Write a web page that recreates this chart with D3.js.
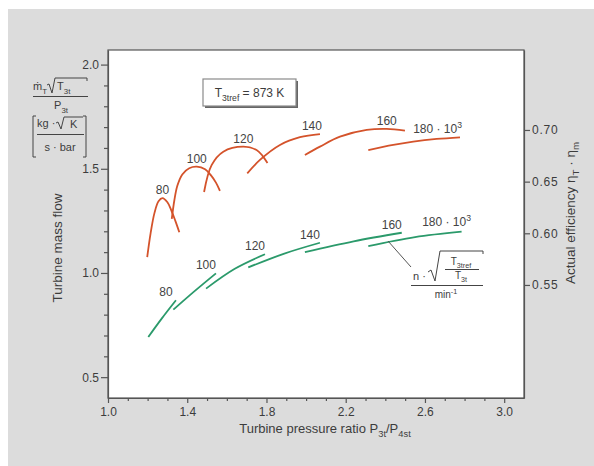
<!DOCTYPE html>
<html>
<head>
<meta charset="utf-8">
<script src="https://cdn.jsdelivr.net/npm/d3@7"></script>
<style>
body { margin: 0; background: #fff; }
svg { display: block; font-family: "Liberation Sans", Arial, sans-serif; }
.axis path, .axis line { stroke: #555; stroke-width: 1.2; }
.axis text { font-size: 12px; fill: #3c3c3c; font-family: "Liberation Sans", Arial, sans-serif; }
</style>
</head>
<body>
<svg id="chart" width="594" height="466"></svg>
<script>
// speed lines n*sqrt(T3tref/T3t) in 1/min (x 10^3)
var speeds = ["80", "100", "120", "140", "160", "180"];

// actual efficiency vs pressure ratio (right axis)
var effCurves = [
	[[1.198, 0.577], [1.215, 0.600], [1.235, 0.620], [1.255, 0.631], [1.275, 0.634], [1.30, 0.630], [1.32, 0.622], [1.34, 0.612], [1.36, 0.601]],
	[[1.322, 0.614], [1.335, 0.632], [1.35, 0.646], [1.375, 0.657], [1.41, 0.663], [1.448, 0.6645], [1.49, 0.662], [1.52, 0.656], [1.545, 0.649], [1.565, 0.641]],
	[[1.485, 0.640], [1.523, 0.666], [1.582, 0.679], [1.683, 0.6838], [1.75, 0.6806], [1.78, 0.675], [1.805, 0.668]],
	[[1.703, 0.658], [1.767, 0.671], [1.868, 0.6855], [1.969, 0.693], [2.07, 0.696]],
	[[1.994, 0.6758], [2.07, 0.6839], [2.171, 0.6935], [2.306, 0.700], [2.407, 0.701], [2.499, 0.6993]],
	[[2.314, 0.6806], [2.44, 0.6855], [2.541, 0.6887], [2.659, 0.6913], [2.777, 0.6929]]
];

// turbine mass flow vs pressure ratio (left axis)
var flowCurves = [
	[[1.2035, 0.693], [1.271, 0.781], [1.343, 0.869]],
	[[1.33, 0.824], [1.44, 0.915], [1.545, 0.998]],
	[[1.495, 0.925], [1.64, 1.02], [1.7925, 1.09]],
	[[1.708, 1.0265], [1.89, 1.093], [2.07, 1.145]],
	[[1.994, 1.100], [2.24, 1.152], [2.483, 1.193]],
	[[2.314, 1.129], [2.55, 1.172], [2.785, 1.198]]
];

var xTicks = [1.0, 1.4, 1.8, 2.2, 2.6, 3.0];
var yLeftTicks = [0.5, 1.0, 1.5, 2.0];
var yRightTicks = [0.55, 0.60, 0.65, 0.70];

var svg = d3.select("#chart"),
	margin = {top: 50, left: 108, bottom: 68, right: 70},
	width = +svg.attr("width"),
	height = +svg.attr("height");

var effColor = "#d4532b", flowColor = "#2b9a6b", textColor = "#3c3c3c";

// background
svg.append("rect").attr("width", width).attr("height", height).attr("fill", "#fff");
svg.append("rect").attr("x", 8).attr("y", 9).attr("width", width - 8).attr("height", height - 9).attr("fill", "#dcdcdc");

var x = d3.scaleLinear()
	.domain([1.0, 3.1])
	.range([margin.left, width - margin.right]);

var yL = d3.scaleLinear()
	.domain([0.4, 2.07])
	.range([height - margin.bottom, margin.top]);

var yR = d3.scaleLinear()
	.domain([0.4406, 0.7774])
	.range([height - margin.bottom, margin.top]);

svg.append("rect")
	.attr("x", x.range()[0]).attr("y", margin.top)
	.attr("width", x.range()[1] - x.range()[0])
	.attr("height", height - margin.bottom - margin.top)
	.attr("fill", "#fff")
	.attr("stroke", "#555").attr("stroke-width", 1.2);

// helper for text with sub/superscripts
function rich(g, px, py, parts, size, anchor) {
	var t = g.append("text").attr("x", px).attr("y", py)
		.attr("font-size", size).attr("fill", textColor)
		.attr("text-anchor", anchor || "start");
	var shift = 0;
	parts.forEach(function(p) {
		var target = p[1] == "sub" ? size * 0.32 : p[1] == "sup" ? -size * 0.42 : 0;
		t.append("tspan").attr("dy", target - shift)
			.attr("font-size", p[1] == "n" ? size : size * 0.72)
			.text(p[0]);
		shift = target;
	});
	return t;
}

// axes
var minorX = d3.range(11, 31).map(d => d / 10).filter(d => xTicks.indexOf(d) < 0);
svg.append("g").attr("class", "axis")
	.attr("transform", `translate(0,${height - margin.bottom})`)
	.call(d3.axisBottom(x).tickValues(minorX).tickSize(3).tickFormat("").tickSizeOuter(0))
	.select(".domain").remove();
svg.append("g").attr("class", "axis")
	.attr("transform", `translate(0,${height - margin.bottom})`)
	.call(d3.axisBottom(x).tickValues(xTicks).tickSize(5).tickPadding(4).tickFormat(d3.format(".1f")).tickSizeOuter(0));

var minorY = d3.range(5, 21).map(d => d / 10).filter(d => yLeftTicks.indexOf(d) < 0);
svg.append("g").attr("class", "axis")
	.attr("transform", `translate(${margin.left},0)`)
	.call(d3.axisLeft(yL).tickValues(minorY).tickSize(4).tickFormat("").tickSizeOuter(0))
	.select(".domain").remove();
svg.append("g").attr("class", "axis")
	.attr("transform", `translate(${margin.left},0)`)
	.call(d3.axisLeft(yL).tickValues(yLeftTicks).tickSize(7).tickPadding(2).tickFormat(d3.format(".1f")).tickSizeOuter(0));

svg.append("g").attr("class", "axis")
	.attr("transform", `translate(${width - margin.right},0)`)
	.call(d3.axisRight(yR).tickValues(yRightTicks).tickSize(6).tickPadding(2).tickFormat(d3.format(".2f")).tickSizeOuter(0))
	.selectAll("text").attr("letter-spacing", "0.8px");

// curves
var line = d3.line().curve(d3.curveCatmullRom.alpha(0.5));

svg.append("g").selectAll("path.eff")
	.data(effCurves)
	.enter().append("path")
	.attr("class", "eff")
	.attr("fill", "none").attr("stroke", effColor).attr("stroke-width", 1.8)
	.attr("d", d => line(d.map(p => [x(p[0]), yR(p[1])])));

svg.append("g").selectAll("path.flow")
	.data(flowCurves)
	.enter().append("path")
	.attr("class", "flow")
	.attr("fill", "none").attr("stroke", flowColor).attr("stroke-width", 1.8)
	.attr("d", d => line(d.map(p => [x(p[0]), yL(p[1])])));

// speed labels
function speedLabel(g, i, cx, cy) {
	var parts = i == speeds.length - 1 ? [[speeds[i] + " · 10", "n"], ["3", "sup"]] : [[speeds[i], "n"]];
	var t = rich(g, cx, cy + 4, parts, 12, "middle");
	t.attr("fill", "#444");
	return t;
}
var lab = svg.append("g");
effCurves.forEach(function(c, i) {
	var peak = d3.greatest(c, d => d[1]), end = c[c.length - 1];
	var t = speedLabel(lab, i, 0, 0);
	var w = t.node().getComputedTextLength();
	var cx = Math.min(x(peak[0]), x(end[0]) - w / 2 + 2);
	t.attr("x", cx).attr("y", yR(peak[1]) - 8 + 4);
});
flowCurves.forEach(function(c, i) {
	var end = c[c.length - 1];
	var last = i == speeds.length - 1;
	var t = speedLabel(lab, i, 0, 0);
	t.attr("x", x(end[0]) - (last ? 15 : 10)).attr("y", yL(end[1]) - (last ? 10 : 8) + 4);
});

// reference temperature box
var box = svg.append("g");
box.append("rect").attr("x", 205).attr("y", 81).attr("width", 93).attr("height", 27).attr("fill", "#666");
box.append("rect").attr("x", 203).attr("y", 79).attr("width", 93).attr("height", 27)
	.attr("fill", "#fff").attr("stroke", "#8a8a8a").attr("stroke-width", 1.2);
rich(box, 249.5, 97, [["T", "n"], ["3tref", "sub"], [" = 873 K", "n"]], 12, "middle");

// speed-parameter annotation
var ann = svg.append("g");
ann.append("line").attr("x1", 388).attr("y1", 241).attr("x2", 411).attr("y2", 267)
	.attr("stroke", "#555").attr("stroke-width", 1);
rich(ann, 413, 280, [["n ·", "n"]], 11);
ann.append("path")
	.attr("d", "M428,272 L431,270 L435,281 L440,251 L483,251 L483,254")
	.attr("fill", "none").attr("stroke", "#444").attr("stroke-width", 1);
rich(ann, 461, 265, [["T", "n"], ["3tref", "sub"]], 10, "middle");
ann.append("line").attr("x1", 445).attr("y1", 269.5).attr("x2", 479).attr("y2", 269.5).attr("stroke", "#444");
rich(ann, 461, 279, [["T", "n"], ["3t", "sub"]], 10, "middle");
ann.append("line").attr("x1", 411).attr("y1", 285.5).attr("x2", 483).attr("y2", 285.5).attr("stroke", "#444");
rich(ann, 446, 298, [["min", "n"], ["-1", "sup"]], 10, "middle");

// left axis unit block
var unit = svg.append("g");
rich(unit, 33, 90, [["ṁ", "n"], ["T", "sub"]], 11);
unit.append("path")
	.attr("d", "M47,85 L49,84 L52,93 L55,78 L87,78 L87,81")
	.attr("fill", "none").attr("stroke", "#444").attr("stroke-width", 1);
rich(unit, 57, 90, [["T", "n"], ["3t", "sub"]], 11);
unit.append("line").attr("x1", 33).attr("y1", 96.5).attr("x2", 88).attr("y2", 96.5).attr("stroke", "#444");
rich(unit, 61, 109, [["P", "n"], ["3t", "sub"]], 11, "middle");

unit.append("path").attr("d", "M36,116 H33 V157 H36").attr("fill", "none").attr("stroke", "#444");
unit.append("path").attr("d", "M83,116 H86 V157 H83").attr("fill", "none").attr("stroke", "#444");
rich(unit, 37, 127, [["kg ·", "n"]], 11);
unit.append("path")
	.attr("d", "M56,123 L58,122 L61,129 L64,117 L83,117")
	.attr("fill", "none").attr("stroke", "#444").attr("stroke-width", 1);
rich(unit, 70, 128, [["K", "n"]], 11);
unit.append("line").attr("x1", 37).attr("y1", 134.5).attr("x2", 84).attr("y2", 134.5).attr("stroke", "#444");
rich(unit, 60, 151, [["s · bar", "n"]], 11, "middle");

// axis titles
rich(svg, 325, 433, [["Turbine pressure ratio P", "n"], ["3t", "sub"], ["/P", "n"], ["4st", "sub"]], 13, "middle");

svg.append("text")
	.attr("transform", "translate(62,248) rotate(-90)")
	.attr("text-anchor", "middle").attr("font-size", 13.5).attr("fill", textColor)
	.text("Turbine mass flow");

rich(svg, 0, 0, [["Actual efficiency η", "n"], ["T", "sub"], [" · η", "n"], ["m", "sub"]], 13.5, "middle")
	.attr("transform", "translate(575,213) rotate(-90)");
</script>
</body>
</html>
